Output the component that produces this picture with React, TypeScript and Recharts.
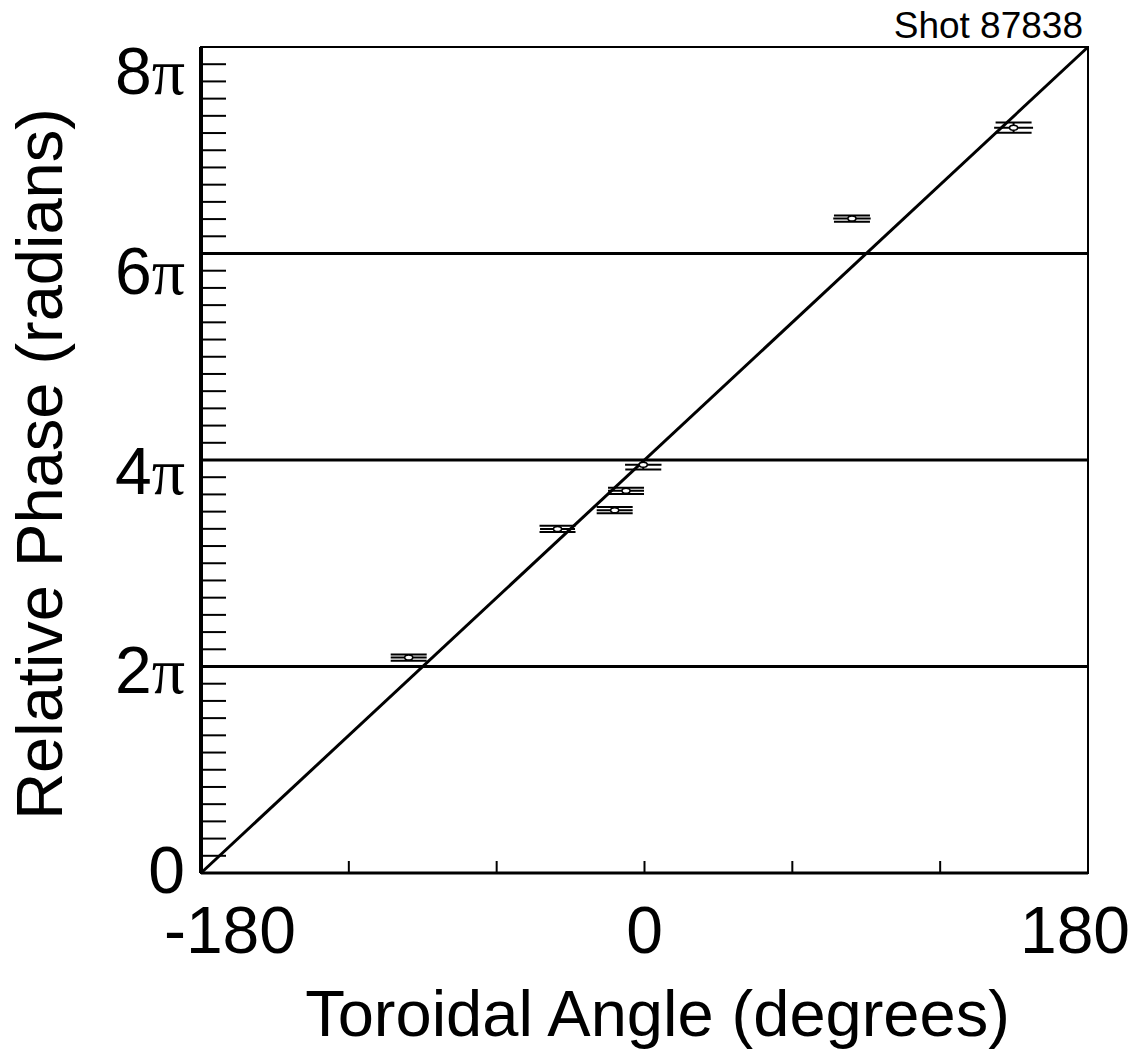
import React from "react";
import {
  ScatterChart,
  Scatter,
  XAxis,
  YAxis,
  ErrorBar,
  ReferenceLine,
  ReferenceArea,
} from "recharts";

// measured points: toroidal angle (deg) vs relative phase (rad)
const angles = [-95.7, -35.3, -12.1, -7.5, -0.5, 84.2, 149.8];
const phases = [6.78, 10.83, 11.42, 12.03, 12.85, 20.6, 23.46];
const angleErrors = [7.3, 7.1, 7.3, 7.3, 7.4, 7.6, 7.9];
const phaseErrors = [0.1, 0.1, 0.1, 0.1, 0.15, 0.1, 0.16];

const xTicks = [-180, -120, -60, 0, 60, 120, 180];
const xLabelTicks = [-180, 0, 180];

const yMax = 26;
const yMinorTicks = Array.from({ length: 49 }, (_, i) => (i * yMax) / 48);
const yLabelValues = [0, 2 * Math.PI, 4 * Math.PI, 6 * Math.PI, 8 * Math.PI];
const yLabelNums = ["0", "2", "4", "6", "8"];
const phaseLines = [6.5, 13, 19.5];

// straight line through the whole range
const fitLine = [
  { x: -180, y: 0 },
  { x: 180, y: 26 },
];

const FONT = "'Liberation Sans', Arial, Helvetica, sans-serif";

const points = angles.map((a, i) => ({
  x: a,
  y: phases[i],
  ex: angleErrors[i],
  ey: phaseErrors[i],
}));

const yTickValues = Array.from(new Set([...yMinorTicks, ...yLabelValues])).sort(
  (a, b) => a - b
);

const YTick = (props: any) => {
  const { x, y, payload } = props;
  const v = payload.value;
  const li = yLabelValues.findIndex((l) => Math.abs(l - v) < 1e-9);
  const isMinor = yMinorTicks.some((m) => Math.abs(m - v) < 1e-9);
  return (
    <g>
      {isMinor && v > 0 && v < yMax && (
        <line x1={x} y1={y} x2={x + 25} y2={y} stroke="#000" strokeWidth={2} />
      )}
      {li >= 0 && (
        <text
          x={x - 16}
          y={y}
          dy="0.3em"
          textAnchor="end"
          fontSize={66}
          fontFamily={FONT}
          fill="#000"
        >
          {yLabelNums[li]}
          {li > 0 && (
            <tspan fontFamily="'Liberation Serif', 'Times New Roman', serif">π</tspan>
          )}
        </text>
      )}
    </g>
  );
};

const XTick = (props: any) => {
  const { x, y, payload } = props;
  const v = payload.value;
  const showLabel = xLabelTicks.includes(v);
  return (
    <g>
      {v > -180 && v < 180 && (
        <line x1={x} y1={y} x2={x} y2={y - 12} stroke="#000" strokeWidth={2} />
      )}
      {showLabel && (
        <text
          x={x + (v === -180 ? 29 : v === 180 ? -13 : 0)}
          y={y + 80}
          textAnchor="middle"
          fontSize={66}
          fontFamily={FONT}
          fill="#000"
        >
          {v}
        </text>
      )}
    </g>
  );
};

const Marker = (props: any) => {
  const { cx, cy } = props;
  return (
    <ellipse cx={cx} cy={cy} rx={4} ry={2.5} fill="#fff" stroke="#000" strokeWidth={1.5} />
  );
};

const XTitle = (props: any) => {
  const { viewBox } = props;
  return (
    <text
      x={viewBox.x + viewBox.width / 2 + 13}
      y={viewBox.y + 163}
      textAnchor="middle"
      fontSize={65}
      fontFamily={FONT}
      fill="#000"
    >
      Toroidal Angle (degrees)
    </text>
  );
};

const YTitle = (props: any) => {
  const { viewBox } = props;
  const cx = 54;
  const cy = viewBox.y + viewBox.height / 2 + 4;
  return (
    <text
      x={cx}
      y={cy}
      transform={`rotate(-90 ${cx} ${cy})`}
      textAnchor="middle"
      fontSize={65}
      fontFamily={FONT}
      fill="#000"
    >
      Relative Phase (radians)
    </text>
  );
};

const ShotLabel = (props: any) => {
  const { viewBox } = props;
  return (
    <text
      x={viewBox.x + viewBox.width - 5}
      y={viewBox.y - 9}
      textAnchor="end"
      fontSize={37}
      fontFamily={FONT}
      fill="#000"
    >
      Shot 87838
    </text>
  );
};

export default function App() {
  return (
    <ScatterChart
      width={1136}
      height={1046}
      margin={{ top: 39, right: 56, left: 0, bottom: 0 }}
      style={{ background: "#fff" }}
    >
      <XAxis
        type="number"
        dataKey="x"
        domain={[-180, 180]}
        ticks={xTicks}
        interval={0}
        height={181}
        tickSize={0}
        tickMargin={0}
        tickLine={false}
        axisLine={{ stroke: "#000", strokeWidth: 3 }}
        tick={XTick}
        label={XTitle}
        allowDataOverflow
      />
      <YAxis
        type="number"
        dataKey="y"
        domain={[0, yMax]}
        ticks={yTickValues}
        interval={0}
        width={193}
        tickSize={0}
        tickMargin={0}
        tickLine={false}
        axisLine={{ stroke: "#000", strokeWidth: 4 }}
        tick={YTick}
        label={YTitle}
        allowDataOverflow
      />
      <ReferenceArea
        x1={-180}
        x2={180}
        y1={0}
        y2={yMax}
        fill="none"
        fillOpacity={0}
        stroke="#000"
        strokeWidth={2}
        label={ShotLabel}
      />
      {phaseLines.map((p) => (
        <ReferenceLine key={p} y={p} stroke="#000" strokeWidth={3} />
      ))}
      <ReferenceLine segment={fitLine} stroke="#000" strokeWidth={3} />
      <Scatter data={points} shape={Marker} isAnimationActive={false}>
        <ErrorBar dataKey="ex" direction="x" width={0} stroke="#000" strokeWidth={2} />
        <ErrorBar dataKey="ey" direction="y" width={18} stroke="#000" strokeWidth={2} />
      </Scatter>
    </ScatterChart>
  );
}
